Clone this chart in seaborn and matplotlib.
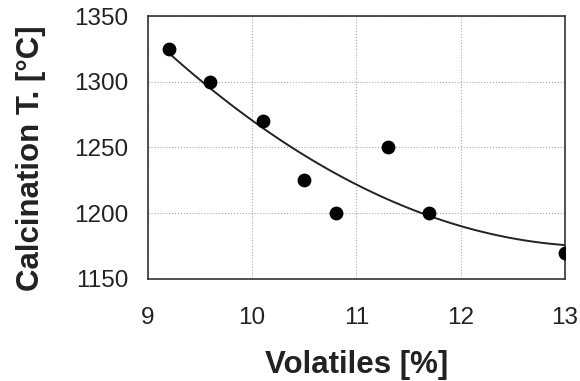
import matplotlib
matplotlib.use('Agg')
import matplotlib.pyplot as plt
from matplotlib.ticker import MultipleLocator
import pandas as pd
import seaborn as sns

volatiles = [9.2, 9.6, 10.1, 10.5, 10.8, 11.3, 11.7, 13.0]
calc_temp = [1325, 1300, 1270, 1225, 1200, 1250, 1200, 1170]

df = pd.DataFrame({'volatiles': volatiles, 'temp': calc_temp})

sns.set_style("white")
plt.rcParams['font.family'] = ['Liberation Sans', 'DejaVu Sans']

fig = plt.figure(figsize=(5.8, 3.81), dpi=100)
ax = fig.add_axes([0.255, 0.268, 0.719, 0.69])

# quadratic trend line through the points
sns.regplot(x='volatiles', y='temp', data=df, order=2, ci=None, ax=ax,
            scatter_kws={'s': 80, 'color': 'black', 'alpha': 1, 'zorder': 3},
            line_kws={'color': '#222222', 'lw': 1.4})

ax.set_xlim(9, 13)
ax.set_ylim(1150, 1350)
ax.xaxis.set_major_locator(MultipleLocator(1))
ax.xaxis.set_minor_locator(MultipleLocator(0.5))
ax.yaxis.set_major_locator(MultipleLocator(50))
ax.yaxis.set_minor_locator(MultipleLocator(25))
ax.grid(True, which='major', color='#aaaaaa', linestyle=':', linewidth=0.8)
ax.tick_params(which='major', direction='in', length=0, labelsize=17.5,
               labelcolor='#222222')
ax.tick_params(axis='x', which='major', pad=20)
ax.tick_params(axis='y', which='major', pad=14)
ax.tick_params(which='minor', direction='in', length=5, width=1, color='#333333')
for s in ax.spines.values():
    s.set_color('#333333')
    s.set_linewidth(1.2)

ax.set_xlabel('Volatiles [%]', fontsize=22.5, fontweight='bold',
              color='#222222', va='center', ha='center')
ax.set_ylabel('Calcination T. [°C]', fontsize=22.5, fontweight='bold',
              color='#222222', va='center', ha='center')
ax.xaxis.set_label_coords(0.5, -0.327)
ax.yaxis.set_label_coords(-0.28, 0.46)

fig.savefig('out.png', dpi=100)
